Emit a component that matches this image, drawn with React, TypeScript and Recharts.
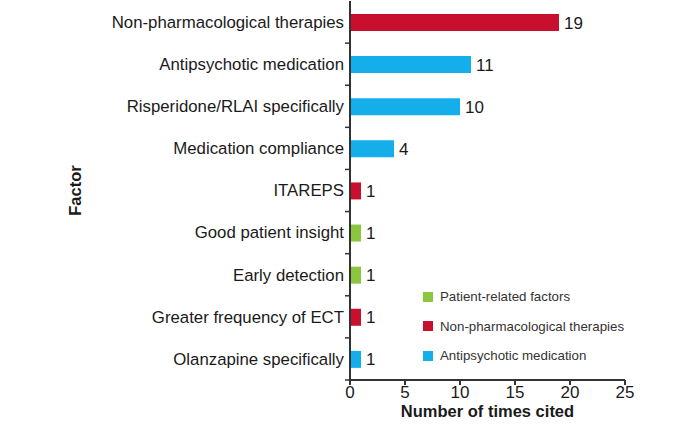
import React from "react";
import { BarChart, Bar, XAxis, YAxis, Cell, LabelList } from "recharts";

const factors = [
  "Non-pharmacological therapies",
  "Antipsychotic medication",
  "Risperidone/RLAI specifically",
  "Medication compliance",
  "ITAREPS",
  "Good patient insight",
  "Early detection",
  "Greater frequency of ECT",
  "Olanzapine specifically",
];
const counts = [19, 11, 10, 4, 1, 1, 1, 1, 1];
const groups = ["non", "anti", "anti", "anti", "non", "patient", "patient", "non", "anti"];
const xTicks = [0, 5, 10, 15, 20, 25];

const groupNames: Record<string, string> = {
  patient: "Patient-related factors",
  non: "Non-pharmacological therapies",
  anti: "Antipsychotic medication",
};
const groupColors: Record<string, string> = {
  patient: "#8cc63f",
  non: "#c8102e",
  anti: "#14aeea",
};
const legendOrder = ["patient", "non", "anti"];

const data = factors.map((f, i) => ({ factor: f, count: counts[i], group: groups[i] }));

const FONT = "'Liberation Sans', Arial, sans-serif";
const PLOT_TOP = 1;
const PLOT_BOTTOM = 380;
const BAND = (PLOT_BOTTOM - PLOT_TOP) / factors.length;

const YTick = (props: any) => {
  const { x, y, payload } = props;
  return (
    <g>
      <line x1={x} x2={x + 5} y1={y + BAND / 2} y2={y + BAND / 2} stroke="#333" strokeWidth={1.5} />
      <text x={x - 1} y={y} dy="0.35em" textAnchor="end" fontSize={16.8} fill="#1a1a1a" fontFamily={FONT}>
        {payload.value}
      </text>
    </g>
  );
};

const LegendBox = () => (
  <div style={{ position: "absolute", left: 423, top: 282, fontFamily: FONT, fontSize: 13.3, color: "#333" }}>
    {legendOrder.map((g) => (
      <div key={g} style={{ display: "flex", alignItems: "center", height: 29.5 }}>
        <span style={{ display: "inline-block", width: 10, height: 10, background: groupColors[g], marginRight: 7 }} />
        <span>{groupNames[g]}</span>
      </div>
    ))}
  </div>
);

export default function App() {
  return (
    <div style={{ position: "absolute", left: 0, top: 0, width: 685, height: 432, background: "#fff" }}>
      <BarChart
        width={685}
        height={432}
        data={data}
        layout="vertical"
        margin={{ top: PLOT_TOP, right: 60, bottom: 0, left: 0 }}
        barCategoryGap={0}
      >
        <XAxis
          type="number"
          domain={[0, 25]}
          ticks={xTicks}
          tickSize={5}
          tickMargin={1}
          height={52}
          stroke="#333"
          strokeWidth={2}
          tick={{ fontSize: 17, fill: "#1a1a1a", fontFamily: FONT }}
          label={{
            value: "Number of times cited",
            position: "insideBottom",
            offset: 15,
            fontSize: 16.5,
            fontWeight: "bold",
            fill: "#1a1a1a",
            fontFamily: FONT,
          }}
        />
        <YAxis
          type="category"
          dataKey="factor"
          width={350}
          tickSize={5}
          tickMargin={0}
          tickLine={false}
          stroke="#333"
          strokeWidth={2}
          tick={<YTick />}
          interval={0}
          label={{
            value: "Factor",
            angle: -90,
            position: "insideLeft",
            offset: 75,
            fontSize: 16.5,
            fontWeight: "bold",
            fill: "#1a1a1a",
            fontFamily: FONT,
            style: { textAnchor: "middle" },
          }}
        />
        <Bar dataKey="count" barSize={17} isAnimationActive={false}>
          {data.map((d, i) => (
            <Cell key={i} fill={groupColors[d.group]} />
          ))}
          <LabelList dataKey="count" position="right" offset={5} fontSize={17} fill="#1a1a1a" fontFamily={FONT} />
        </Bar>
      </BarChart>
      <LegendBox />
    </div>
  );
}
